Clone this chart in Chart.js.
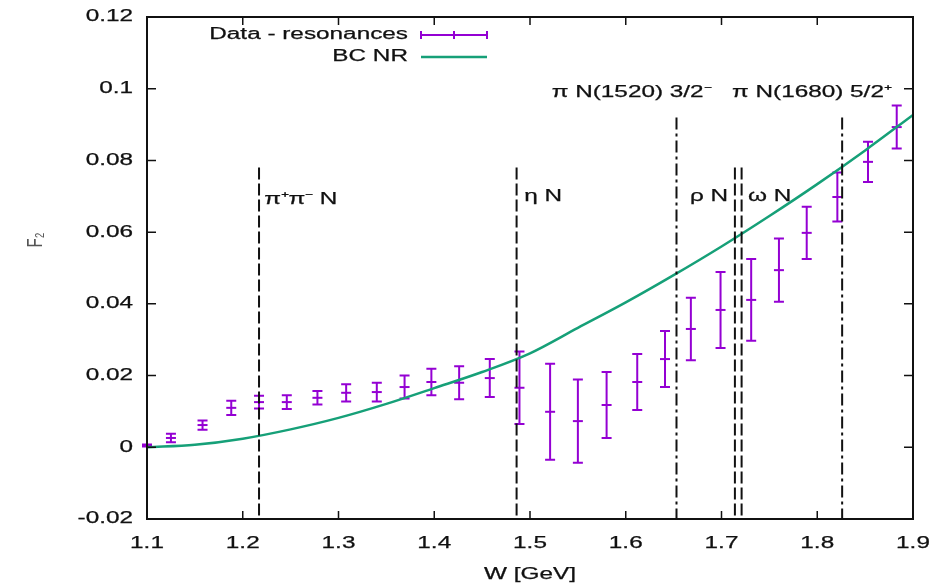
<!DOCTYPE html>
<html>
<head>
<meta charset="utf-8">
<script src="https://cdn.jsdelivr.net/npm/chart.js@4.4.0/dist/chart.umd.min.js"></script>
<style>
  html, body { margin: 0; padding: 0; background: #fff; }
  #wrap { width: 930px; height: 585px; }
</style>
</head>
<body>
<div id="wrap"><canvas id="chart" width="930" height="585"></canvas></div>
<script>
// F2 data (resonances subtracted)
const wData = [1.100, 1.125, 1.158, 1.188, 1.217, 1.246, 1.278, 1.308, 1.340, 1.369, 1.397, 1.426, 1.458,
               1.489, 1.521, 1.550, 1.580, 1.612, 1.641, 1.668, 1.699, 1.731, 1.760, 1.789, 1.821, 1.853, 1.883];
const f2Data = [0.0005, 0.0026, 0.0062, 0.0110, 0.0126, 0.0126, 0.0138, 0.0152, 0.0154, 0.0168, 0.0182, 0.0180, 0.0193,
                0.0166, 0.0099, 0.0073, 0.0118, 0.0182, 0.0246, 0.0330, 0.0383, 0.0411, 0.0494, 0.0598, 0.0698, 0.0796, 0.0893];
const f2Err = [0.0003, 0.0012, 0.0013, 0.0020, 0.0018, 0.0019, 0.0019, 0.0024, 0.0026, 0.0032, 0.0037, 0.0046, 0.0053,
               0.0101, 0.0134, 0.0116, 0.0092, 0.0078, 0.0078, 0.0087, 0.0106, 0.0114, 0.0088, 0.0073, 0.0068, 0.0056, 0.0060];

// BC NR curve
const bcW = [1.10, 1.15, 1.20, 1.25, 1.30, 1.35, 1.40, 1.45, 1.50, 1.55, 1.60, 1.65, 1.70, 1.75, 1.80, 1.85, 1.90];
const bcF2 = [0.0000, 0.0007, 0.0024, 0.0050, 0.0082, 0.0121, 0.0165, 0.0210, 0.0262, 0.0333, 0.0404, 0.0480, 0.0560,
              0.0645, 0.0734, 0.0828, 0.0927];

// thresholds (vertical lines) and their labels
const thrW = [1.217, 1.486, 1.653, 1.714, 1.721, 1.826];
const thrTop = [0.078, 0.078, 0.092, 0.078, 0.078, 0.092];
const thrDash = ['dash', 'dash', 'dashdot', 'dash', 'dash', 'dashdot'];
const labelText = ['\u03c0\u207a\u03c0\u207b N', '\u03b7 N', '\u03c1 N', '\u03c9 N',
                   '\u03c0 N(1520) 3/2\u207b', '\u03c0 N(1680) 5/2\u207a'];
const labelW = [1.2224, 1.4940, 1.6670, 1.7276, 1.5226, 1.7109];
const labelF2 = [0.0690, 0.0698, 0.0698, 0.0698, 0.0988, 0.0988];

const xTicks = [1.1, 1.2, 1.3, 1.4, 1.5, 1.6, 1.7, 1.8, 1.9];
const xTickLabels = ['1.1', '1.2', '1.3', '1.4', '1.5', '1.6', '1.7', '1.8', '1.9'];
const yTicks = [-0.02, 0, 0.02, 0.04, 0.06, 0.08, 0.1, 0.12];
const yTickLabels = ['-0.02', '0', '0.02', '0.04', '0.06', '0.08', '0.1', '0.12'];

const PURPLE = '#9400d3';
const GREEN = '#16a078';
const STRETCH = 1.52;
const FONT = '16px "Liberation Sans", Arial, sans-serif';

const dashes = { dash: [12, 4], dashdot: [12, 4, 3, 4] };

// gnuplot style text is drawn wide
function wideText(ctx, str, x, y, align) {
    ctx.save();
    ctx.translate(x, y);
    ctx.scale(STRETCH, 1);
    ctx.textAlign = align || 'left';
    ctx.textBaseline = 'middle';
    ctx.lineWidth = 0.25;
    ctx.strokeStyle = ctx.fillStyle;
    ctx.fillText(str, 0, 0);
    ctx.strokeText(str, 0, 0);
    ctx.restore();
}

function errorBar(ctx, px, top, bottom, cap) {
    ctx.beginPath();
    ctx.moveTo(px, top); ctx.lineTo(px, bottom);
    ctx.moveTo(px - cap, top); ctx.lineTo(px + cap, top);
    ctx.moveTo(px - cap, bottom); ctx.lineTo(px + cap, bottom);
    ctx.stroke();
}

const errorBars = {
    id: 'errorBars',
    beforeDatasetsDraw(chart) {
        const { ctx, scales: { x, y } } = chart;
        ctx.save();
        ctx.strokeStyle = PURPLE;
        ctx.lineWidth = 2;
        wData.forEach((w, i) => {
            const px = x.getPixelForValue(w);
            errorBar(ctx, px, y.getPixelForValue(f2Data[i] + f2Err[i]), y.getPixelForValue(f2Data[i] - f2Err[i]), 5);
        });
        ctx.restore();
    }
};

const frameAndText = {
    id: 'frameAndText',
    afterDraw(chart) {
        const { ctx, chartArea: a, scales: { x, y } } = chart;
        ctx.save();
        ctx.strokeStyle = '#111';
        ctx.lineWidth = 2;
        ctx.strokeRect(a.left, a.top, a.right - a.left, a.bottom - a.top);

        // inward ticks on all four sides
        ctx.lineWidth = 1.5;
        ctx.beginPath();
        xTicks.forEach(v => {
            const px = x.getPixelForValue(v);
            ctx.moveTo(px, a.bottom); ctx.lineTo(px, a.bottom - 8);
            ctx.moveTo(px, a.top); ctx.lineTo(px, a.top + 8);
        });
        yTicks.forEach(v => {
            const py = y.getPixelForValue(v);
            ctx.moveTo(a.left, py); ctx.lineTo(a.left + 9, py);
            ctx.moveTo(a.right, py); ctx.lineTo(a.right - 9, py);
        });
        ctx.stroke();

        ctx.fillStyle = '#111';
        ctx.font = FONT;
        xTicks.forEach((v, i) => wideText(ctx, xTickLabels[i], x.getPixelForValue(v), a.bottom + 25, 'center'));
        yTicks.forEach((v, i) => wideText(ctx, yTickLabels[i], a.left - 14, y.getPixelForValue(v), 'right'));

        // threshold labels
        labelText.forEach((t, i) => wideText(ctx, t, x.getPixelForValue(labelW[i]), y.getPixelForValue(labelF2[i]), 'left'));

        // axis titles
        wideText(ctx, 'W [GeV]', (a.left + a.right) / 2, 575, 'center');
        ctx.save();
        ctx.translate(36, 240);
        ctx.scale(STRETCH, 1);
        ctx.rotate(-Math.PI / 2);
        ctx.fillStyle = '#555';
        ctx.font = '15px "Liberation Sans", Arial, sans-serif';
        ctx.textAlign = 'center';
        ctx.textBaseline = 'middle';
        ctx.fillText('F\u2082', 0, 0);
        ctx.restore();

        // key
        ctx.fillStyle = '#111';
        ctx.font = FONT;
        wideText(ctx, 'Data - resonances', 408, 35, 'right');
        wideText(ctx, 'BC NR', 408, 57, 'right');
        ctx.strokeStyle = PURPLE;
        ctx.lineWidth = 2;
        ctx.beginPath();
        ctx.moveTo(421, 35); ctx.lineTo(487, 35);
        ctx.moveTo(421, 31); ctx.lineTo(421, 39);
        ctx.moveTo(487, 31); ctx.lineTo(487, 39);
        ctx.moveTo(454, 31); ctx.lineTo(454, 39);
        ctx.stroke();
        ctx.strokeStyle = GREEN;
        ctx.lineWidth = 2.5;
        ctx.beginPath();
        ctx.moveTo(421, 57); ctx.lineTo(487, 57);
        ctx.stroke();
        ctx.restore();
    }
};

const datasets = [];
thrW.forEach((w, i) => {
    datasets.push({
        type: 'line',
        data: [{ x: w, y: thrTop[i] }, { x: w, y: -0.02 }],
        borderColor: '#111',
        borderWidth: 2,
        borderDash: dashes[thrDash[i]],
        pointRadius: 0
    });
});
datasets.push({
    type: 'line',
    label: 'BC NR',
    data: bcW.map((w, i) => ({ x: w, y: bcF2[i] })),
    borderColor: GREEN,
    borderWidth: 2.5,
    cubicInterpolationMode: 'monotone',
    pointRadius: 0
});
datasets.push({
    type: 'scatter',
    label: 'Data - resonances',
    data: wData.map((w, i) => ({ x: w, y: f2Data[i] })),
    showLine: false,
    pointStyle: 'line',
    pointRadius: 5,
    borderColor: PURPLE,
    backgroundColor: PURPLE,
    borderWidth: 2
});

new Chart(document.getElementById('chart'), {
    type: 'line',
    data: { datasets: datasets },
    options: {
        responsive: false,
        animation: false,
        layout: { padding: { left: 147, right: 17, top: 17, bottom: 66 } },
        plugins: { legend: { display: false }, tooltip: { enabled: false } },
        scales: {
            x: {
                type: 'linear', min: 1.1, max: 1.9,
                ticks: { display: false }, grid: { display: false }, border: { display: false },
                afterFit(s) { s.height = 0; }
            },
            y: {
                type: 'linear', min: -0.02, max: 0.12,
                ticks: { display: false }, grid: { display: false }, border: { display: false },
                afterFit(s) { s.width = 0; }
            }
        }
    },
    plugins: [errorBars, frameAndText]
});
</script>
</body>
</html>
